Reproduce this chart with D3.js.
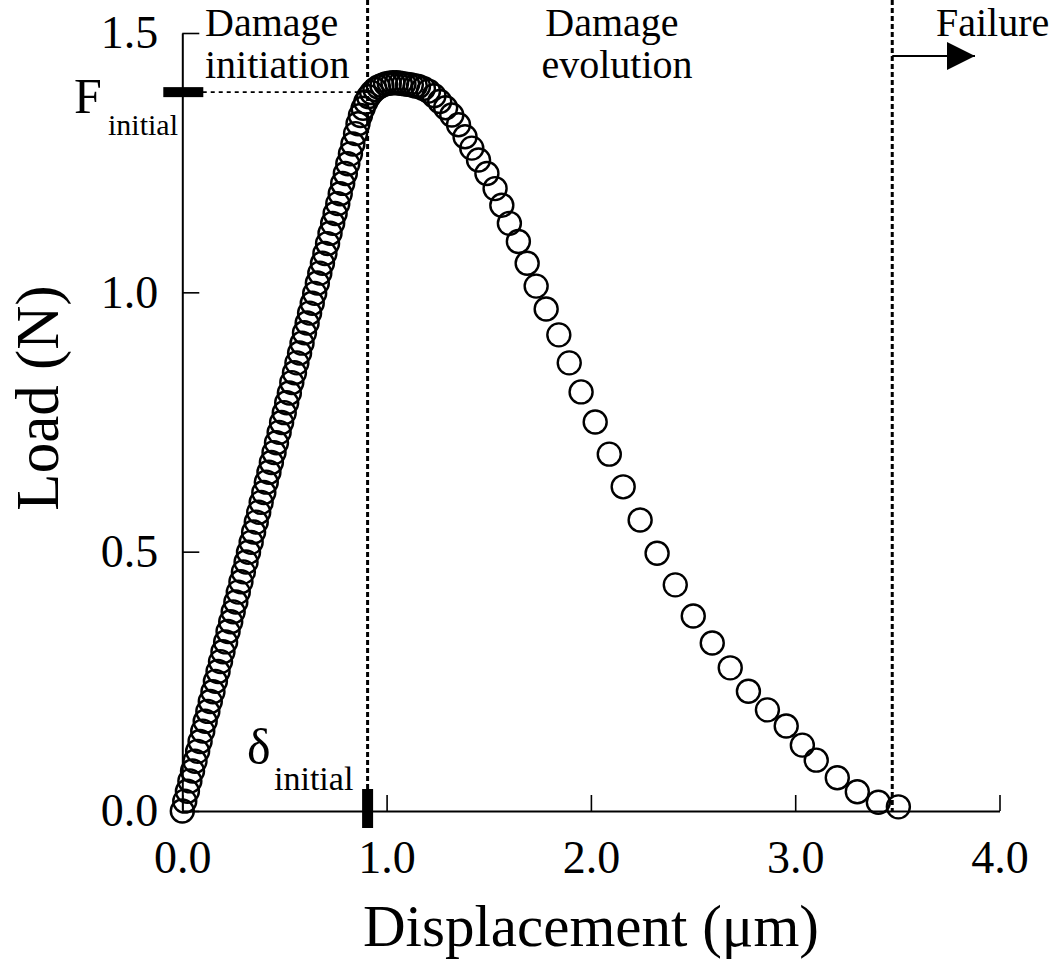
<!DOCTYPE html>
<html>
<head>
<meta charset="utf-8">
<script src="https://cdn.jsdelivr.net/npm/d3@7"></script>
<style>
  body { margin: 0; background: #fff; }
  svg { display: block; font-family: "Liberation Serif", "Times New Roman", serif; }
  .axis path { stroke: #000; stroke-width: 2; }
  .axis line { stroke: #000; stroke-width: 1.6; }
  .axis text { font-size: 46px; fill: #000; font-family: "Liberation Serif", serif; }
</style>
</head>
<body>
<div id="chart"></div>
<script>
// Rising branch (elastic loading)
const riseDisp = [0.000, 0.012, 0.025, 0.037, 0.050, 0.062, 0.075, 0.087, 0.100, 0.112,
  0.125, 0.137, 0.150, 0.162, 0.175, 0.187, 0.199, 0.212, 0.224, 0.237,
  0.249, 0.262, 0.274, 0.287, 0.299, 0.312, 0.324, 0.337, 0.349, 0.362,
  0.374, 0.386, 0.399, 0.411, 0.424, 0.436, 0.449, 0.461, 0.474, 0.486,
  0.499, 0.511, 0.524, 0.536, 0.549, 0.561, 0.574, 0.586, 0.598, 0.611,
  0.623, 0.636, 0.648, 0.661, 0.673, 0.686, 0.698, 0.711, 0.723, 0.736,
  0.748, 0.761, 0.773, 0.785, 0.798, 0.810, 0.823, 0.835];
const riseLoad = [0.000, 0.019, 0.038, 0.058, 0.077, 0.096, 0.115, 0.134, 0.154, 0.173,
  0.192, 0.211, 0.230, 0.250, 0.269, 0.288, 0.307, 0.326, 0.346, 0.365,
  0.384, 0.403, 0.422, 0.442, 0.461, 0.480, 0.499, 0.518, 0.538, 0.557,
  0.576, 0.595, 0.614, 0.634, 0.653, 0.672, 0.691, 0.710, 0.730, 0.749,
  0.768, 0.787, 0.806, 0.826, 0.845, 0.864, 0.883, 0.902, 0.922, 0.941,
  0.960, 0.979, 0.998, 1.018, 1.037, 1.056, 1.075, 1.094, 1.114, 1.133,
  1.152, 1.171, 1.190, 1.210, 1.229, 1.248, 1.267, 1.286];

// Peak region
const peakDisp = [0.848, 0.860, 0.872, 0.885, 0.898, 0.912, 0.927, 0.943, 0.960, 0.977,
  0.995, 1.013, 1.031, 1.049, 1.067, 1.085, 1.103, 1.121, 1.140, 1.156];
const peakLoad = [1.306, 1.325, 1.341, 1.355, 1.367, 1.377, 1.385, 1.391, 1.396, 1.399,
  1.402, 1.403, 1.404, 1.404, 1.403, 1.402, 1.401, 1.400, 1.398, 1.397];

// Softening branch (damage evolution)
const fallDisp = [1.180, 1.205, 1.232, 1.260, 1.289, 1.319, 1.352, 1.384, 1.417, 1.450,
  1.491, 1.531, 1.564, 1.601, 1.645, 1.688, 1.732, 1.781, 1.843, 1.894,
  1.952, 2.021, 2.090, 2.158, 2.241, 2.324, 2.413, 2.501, 2.594, 2.682,
  2.771, 2.864, 2.956, 3.035, 3.103, 3.206, 3.304, 3.407, 3.505];
const fallLoad = [1.393, 1.388, 1.379, 1.368, 1.356, 1.342, 1.323, 1.300, 1.278, 1.255,
  1.229, 1.200, 1.168, 1.133, 1.098, 1.056, 1.012, 0.968, 0.918, 0.864,
  0.808, 0.750, 0.688, 0.625, 0.561, 0.497, 0.436, 0.376, 0.324, 0.276,
  0.231, 0.195, 0.164, 0.127, 0.098, 0.064, 0.037, 0.017, 0.008];

const xTicks = [0, 1, 2, 3, 4];
const yTicks = [0, 0.5, 1.0, 1.5];

// markers
const deltaInitial = 0.907;
const forceInitial = 1.386;
const failureDisp = 3.475;

const W = 1050, H = 962;
const svg = d3.select('#chart').append('svg')
    .attr('width', W)
    .attr('height', H);

svg.append('rect').attr('width', W).attr('height', H).attr('fill', '#fff');

const x = d3.scaleLinear().domain([0, 4]).range([182.3, 999.5]);
const y = d3.scaleLinear().domain([0, 1.5]).range([811, 33]);

// axes (ticks pointing inward)
svg.append('g')
    .attr('class', 'axis')
    .attr('transform', `translate(0,${y(0)})`)
    .call(d3.axisBottom(x).tickValues(xTicks).tickSize(-16).tickSizeOuter(0).tickPadding(29)
        .tickFormat(d3.format('.1f')));

svg.append('g')
    .attr('class', 'axis')
    .attr('transform', `translate(${x(0)},0)`)
    .call(d3.axisLeft(y).tickValues(yTicks).tickSize(-17).tickSizeOuter(0).tickPadding(24)
        .tickFormat(d3.format('.1f')));

// dashed guide lines
svg.append('line')
    .attr('x1', x(deltaInitial)).attr('x2', x(deltaInitial))
    .attr('y1', 0).attr('y2', y(0))
    .attr('stroke', '#000').attr('stroke-width', 3).attr('stroke-dasharray', '5,3');

svg.append('line')
    .attr('x1', x(failureDisp)).attr('x2', x(failureDisp))
    .attr('y1', 0).attr('y2', y(0))
    .attr('stroke', '#000').attr('stroke-width', 3).attr('stroke-dasharray', '5,3');

svg.append('line')
    .attr('x1', x(0.1)).attr('x2', x(deltaInitial))
    .attr('y1', y(forceInitial)).attr('y2', y(forceInitial))
    .attr('stroke', '#000').attr('stroke-width', 1.6).attr('stroke-dasharray', '4,4');

// thick markers on the axes
svg.append('rect')
    .attr('x', x(0) - 19).attr('y', y(forceInitial) - 5)
    .attr('width', 40).attr('height', 10).attr('fill', '#000');

svg.append('rect')
    .attr('x', x(deltaInitial) - 5.5).attr('y', y(0) - 22)
    .attr('width', 11).attr('height', 39).attr('fill', '#000');

// data points
const pts = [];
riseDisp.forEach((d, i) => pts.push([d, riseLoad[i]]));
peakDisp.forEach((d, i) => pts.push([d, peakLoad[i]]));
fallDisp.forEach((d, i) => pts.push([d, fallLoad[i]]));

svg.append('g')
    .selectAll('circle')
    .data(pts)
    .enter()
    .append('circle')
    .attr('cx', d => x(d[0]))
    .attr('cy', d => y(d[1]))
    .attr('r', 11.5)
    .attr('fill', 'none')
    .attr('stroke', '#000')
    .attr('stroke-width', 2.4);

// failure arrow
svg.append('defs').append('marker')
    .attr('id', 'arrow')
    .attr('viewBox', '0 0 10 10')
    .attr('refX', 10).attr('refY', 5)
    .attr('markerUnits', 'userSpaceOnUse')
    .attr('markerWidth', 37).attr('markerHeight', 28)
    .attr('orient', 'auto')
    .append('path')
    .attr('d', 'M0,0L10,5L0,10Z')
    .attr('fill', '#000');

svg.append('line')
    .attr('x1', x(failureDisp)).attr('x2', 975)
    .attr('y1', 56).attr('y2', 56)
    .attr('stroke', '#000').attr('stroke-width', 2)
    .attr('marker-end', 'url(#arrow)');

// annotations
const txt = (t, px, py, size, anchor) => svg.append('text')
    .attr('x', px).attr('y', py)
    .attr('font-size', size)
    .attr('text-anchor', anchor || 'start')
    .attr('fill', '#000')
    .text(t);

txt('Damage', 205, 36, 40);
txt('initiation', 205, 78, 40);
txt('Damage', 612, 36, 40, 'middle');
txt('evolution', 617, 78, 40, 'middle');
txt('Failure', 936, 36, 40);

txt('F', 74, 113, 50);
txt('initial', 108, 135, 30);
txt('\u03b4', 247, 764, 50);
txt('initial', 274, 790, 34);

// axis titles
txt('Displacement (\u03bcm)', 591, 946, 59, 'middle');
svg.append('text')
    .attr('transform', `translate(58,${398}) rotate(-90)`)
    .attr('font-size', 61)
    .attr('text-anchor', 'middle')
    .attr('fill', '#000')
    .text('Load (N)');
</script>
</body>
</html>
